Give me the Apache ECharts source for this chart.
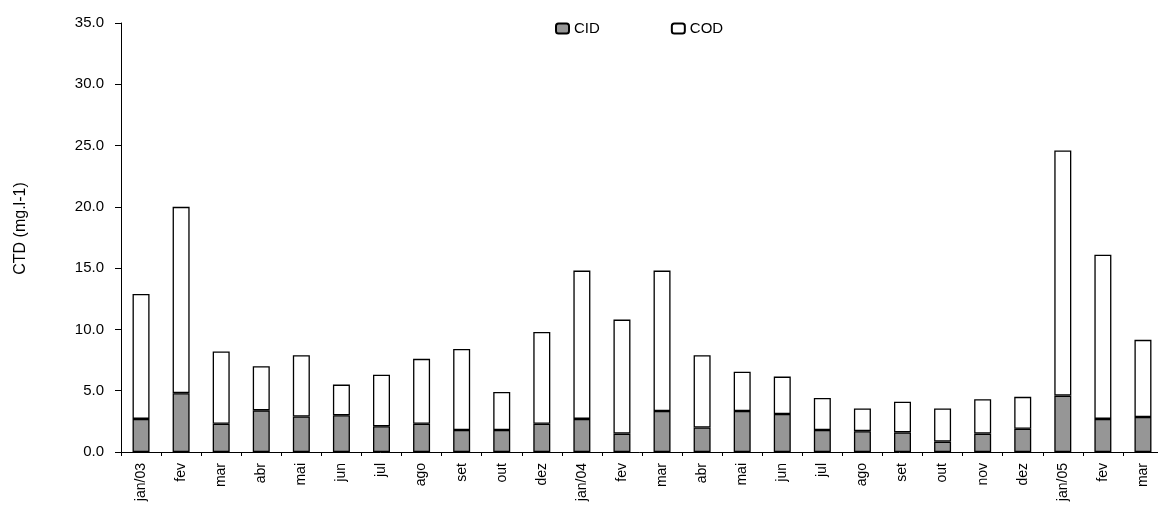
<!DOCTYPE html>
<html>
<head>
<meta charset="utf-8">
<script src="https://cdn.jsdelivr.net/npm/echarts@6/dist/echarts.min.js"></script>
<style>
html,body{margin:0;padding:0;background:#fff;}
#chart{width:1158px;height:506px;}
</style>
</head>
<body>
<div id="chart"></div>
<script>
const categories = ['jan/03','fev','mar','abr','mai','jun','jul','ago','set','out','dez','jan/04','fev','mar','abr','mai','jun','jul','ago','set','out','nov','dez','jan/05','fev','mar'];
const cid = [2.7, 4.8, 2.3, 3.4, 2.9, 3.0, 2.1, 2.3, 1.8, 1.8, 2.3, 2.7, 1.5, 3.35, 2.0, 3.35, 3.1, 1.8, 1.7, 1.6, 0.85, 1.5, 1.9, 4.6, 2.7, 2.85];
const cod = [10.2, 15.2, 5.9, 3.6, 5.0, 2.5, 4.2, 5.3, 6.6, 3.1, 7.5, 12.1, 9.3, 11.45, 5.9, 3.2, 3.05, 2.6, 1.85, 2.5, 2.7, 2.8, 2.6, 20.0, 13.4, 6.3];
const yTicks = { min: 0, max: 35, interval: 5 };

const font = 'Liberation Sans, Arial, sans-serif';
const chart = echarts.init(document.getElementById('chart'));
chart.setOption({
  animation: false,
  backgroundColor: '#ffffff',
  legend: {
    left: 550,
    top: 16,
    itemWidth: 13,
    itemHeight: 10,
    itemGap: 71,
    textStyle: { fontFamily: font, fontSize: 15, color: '#000' },
    data: ['CID', 'COD']
  },
  grid: { left: 121, top: 23, width: 1042, height: 429, containLabel: false, outerBoundsMode: 'none' },
  xAxis: {
    type: 'category',
    data: categories,
    axisLine: { lineStyle: { color: '#000', width: 1 } },
    axisTick: { show: true, length: 4, alignWithLabel: false, lineStyle: { color: '#000' } },
    axisLabel: { rotate: 90, margin: 11, fontFamily: font, fontSize: 14, color: '#000', interval: 0 },
    splitLine: { show: false }
  },
  yAxis: {
    type: 'value',
    min: yTicks.min,
    max: yTicks.max,
    interval: yTicks.interval,
    name: 'CTD (mg.l-1)',
    nameLocation: 'middle',
    nameRotate: 90,
    nameGap: 92,
    nameTextStyle: { fontFamily: font, fontSize: 16, color: '#000', padding: [0, 0, 0, 18] },
    axisLine: { show: true, lineStyle: { color: '#000', width: 1 } },
    axisTick: { show: true, length: 6, lineStyle: { color: '#000' } },
    axisLabel: { margin: 17, fontFamily: font, fontSize: 15, color: '#000', formatter: v => v.toFixed(1) },
    splitLine: { show: false }
  },
  series: [
    {
      name: 'CID', type: 'bar', stack: 'total', data: cid, barWidth: 17,
      itemStyle: { color: '#969696', borderColor: '#000', borderWidth: 1.3 }
    },
    {
      name: 'COD', type: 'bar', stack: 'total', data: cod, barWidth: 17,
      itemStyle: { color: '#ffffff', borderColor: '#000', borderWidth: 1.3 }
    }
  ]
});
</script>
</body>
</html>
